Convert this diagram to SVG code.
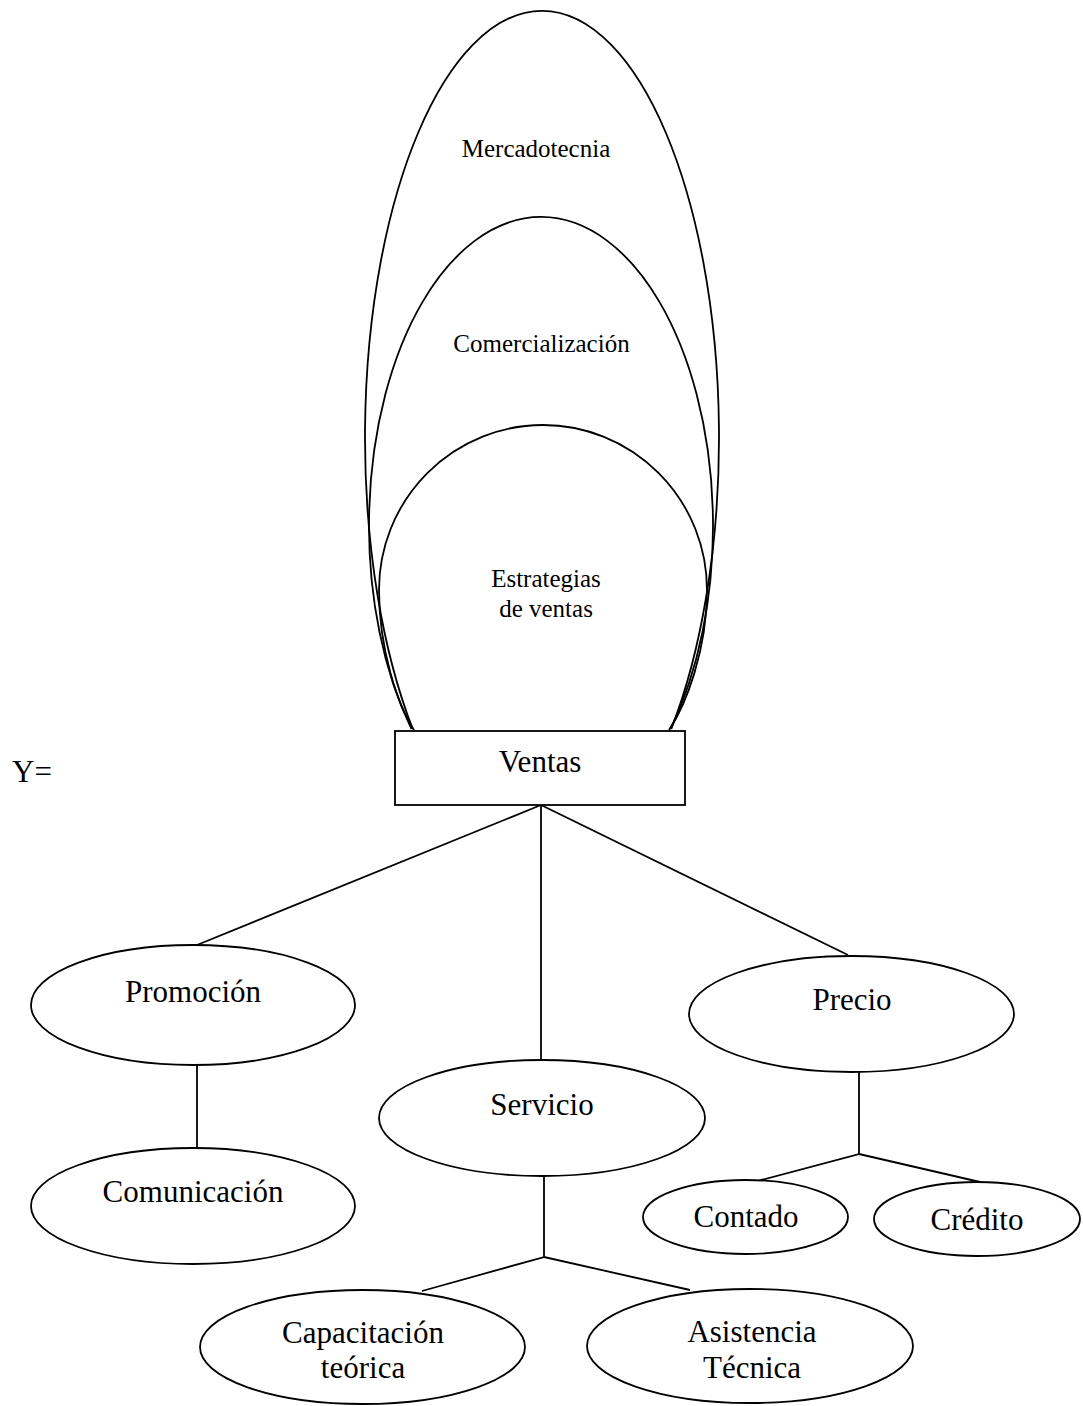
<svg xmlns="http://www.w3.org/2000/svg" width="1083" height="1406" viewBox="0 0 1083 1406">
  <style>
    .shape { fill: #ffffff; stroke: #000000; stroke-width: 1.8; }
    .loop { fill: none; stroke: #000000; stroke-width: 1.8; }
    .link { fill: none; stroke: #000000; stroke-width: 1.8; }
    text { font-family: "Liberation Serif", "Times New Roman", serif; fill: #000000; text-anchor: middle; }
    .small { font-size: 25px; }
    .big { font-size: 31px; }
  </style>
  <rect width="1083" height="1406" fill="#ffffff"/>

  <!-- nested loops above the Ventas box -->
  <g id="loop-mercadotecnia">
    <path class="loop" d="M 412.7 729 A 177 426.7 0 1 1 671.3 729"/>
    <text class="small" x="536" y="157">Mercadotecnia</text>
  </g>
  <g id="loop-comercializacion">
    <path class="loop" d="M 411.5 729 A 172 308.8 0 1 1 670.5 729"/>
    <text class="small" x="541.5" y="352">Comercialización</text>
  </g>
  <g id="loop-estrategias">
    <path class="loop" d="M 414 730 C 398 705 379 650 379 590 A 164 165 0 0 1 707 590 C 707 650 686 705 669 730"/>
    <text class="small" x="546" y="587">Estrategias</text>
    <text class="small" x="546" y="617">de ventas</text>
  </g>

  <g id="label-y">
    <text class="big" x="12" y="782" style="text-anchor:start">Y=</text>
  </g>

  <!-- connectors -->
  <g id="connectors">
    <line class="link" x1="541" y1="805" x2="197" y2="945"/>
    <line class="link" x1="541" y1="805" x2="541" y2="1059"/>
    <line class="link" x1="541" y1="805" x2="848" y2="955"/>
    <line class="link" x1="197" y1="1065" x2="197" y2="1148"/>
    <polyline class="link" points="859,1072 859,1154 750,1183"/>
    <line class="link" x1="859" y1="1154" x2="980" y2="1182"/>
    <polyline class="link" points="544,1176 544,1257 422,1291"/>
    <line class="link" x1="544" y1="1257" x2="690" y2="1290"/>
  </g>

  <g id="ventas">
    <rect class="shape" x="395" y="731" width="290" height="74"/>
    <text class="big" x="540" y="772">Ventas</text>
  </g>

  <g id="promocion">
    <ellipse class="shape" cx="193" cy="1005" rx="162" ry="60"/>
    <text class="big" x="193" y="1002">Promoción</text>
  </g>
  <g id="comunicacion">
    <ellipse class="shape" cx="193" cy="1206" rx="162" ry="58"/>
    <text class="big" x="193" y="1202">Comunicación</text>
  </g>
  <g id="servicio">
    <ellipse class="shape" cx="542" cy="1118" rx="163" ry="58"/>
    <text class="big" x="542" y="1115">Servicio</text>
  </g>
  <g id="precio">
    <ellipse class="shape" cx="851.5" cy="1014" rx="162.5" ry="58"/>
    <text class="big" x="852" y="1010">Precio</text>
  </g>
  <g id="contado">
    <ellipse class="shape" cx="745.5" cy="1217" rx="102.5" ry="37"/>
    <text class="big" x="746" y="1227">Contado</text>
  </g>
  <g id="credito">
    <ellipse class="shape" cx="977" cy="1219" rx="103" ry="37"/>
    <text class="big" x="977" y="1230">Crédito</text>
  </g>
  <g id="capacitacion">
    <ellipse class="shape" cx="362.5" cy="1347" rx="162.5" ry="57"/>
    <text class="big" x="363" y="1343">Capacitación</text>
    <text class="big" x="363" y="1378">teórica</text>
  </g>
  <g id="asistencia">
    <ellipse class="shape" cx="750" cy="1346" rx="163" ry="57"/>
    <text class="big" x="752" y="1342">Asistencia</text>
    <text class="big" x="752" y="1378">Técnica</text>
  </g>
</svg>
